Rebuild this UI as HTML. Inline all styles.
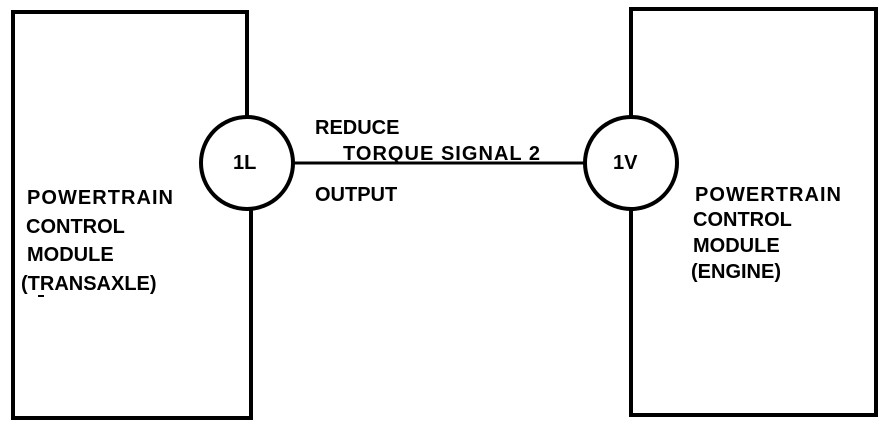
<!DOCTYPE html>
<html><head><style>
html,body{margin:0;padding:0;background:#fff;}
svg{display:block;}
text{font-family:"Liberation Sans",Arial,sans-serif;font-weight:bold;font-size:20px;fill:#000;}
</style></head><body>
<svg width="896" height="428" viewBox="0 0 896 428" xmlns="http://www.w3.org/2000/svg">
<g fill="none" stroke="#000" stroke-width="4">
<polyline points="247,116 247,12 13,12 13,418 251,418 251,210"/>
<circle cx="247" cy="163" r="46"/>
<polyline points="631,116 631,9 876,9 876,415 631,415 631,210"/>
<circle cx="631" cy="163" r="46"/>
<line x1="293" y1="163" x2="585" y2="163" stroke-width="3"/>
</g>
<line x1="38" y1="296" x2="44" y2="296" stroke="#000" stroke-width="2"/>
<text x="233" y="169">1L</text>
<text x="613" y="169">1V</text>
<text x="315" y="134">REDUCE</text>
<text x="343" y="160" textLength="197">TORQUE SIGNAL 2</text>
<text x="315" y="201">OUTPUT</text>
<text x="27" y="204" textLength="146">POWERTRAIN</text>
<text x="26" y="233">CONTROL</text>
<text x="27" y="261">MODULE</text>
<text x="21" y="290">(TRANSAXLE)</text>
<text x="695" y="201" textLength="146">POWERTRAIN</text>
<text x="693" y="226">CONTROL</text>
<text x="693" y="252">MODULE</text>
<text x="691" y="278">(ENGINE)</text>
</svg>
</body></html>
